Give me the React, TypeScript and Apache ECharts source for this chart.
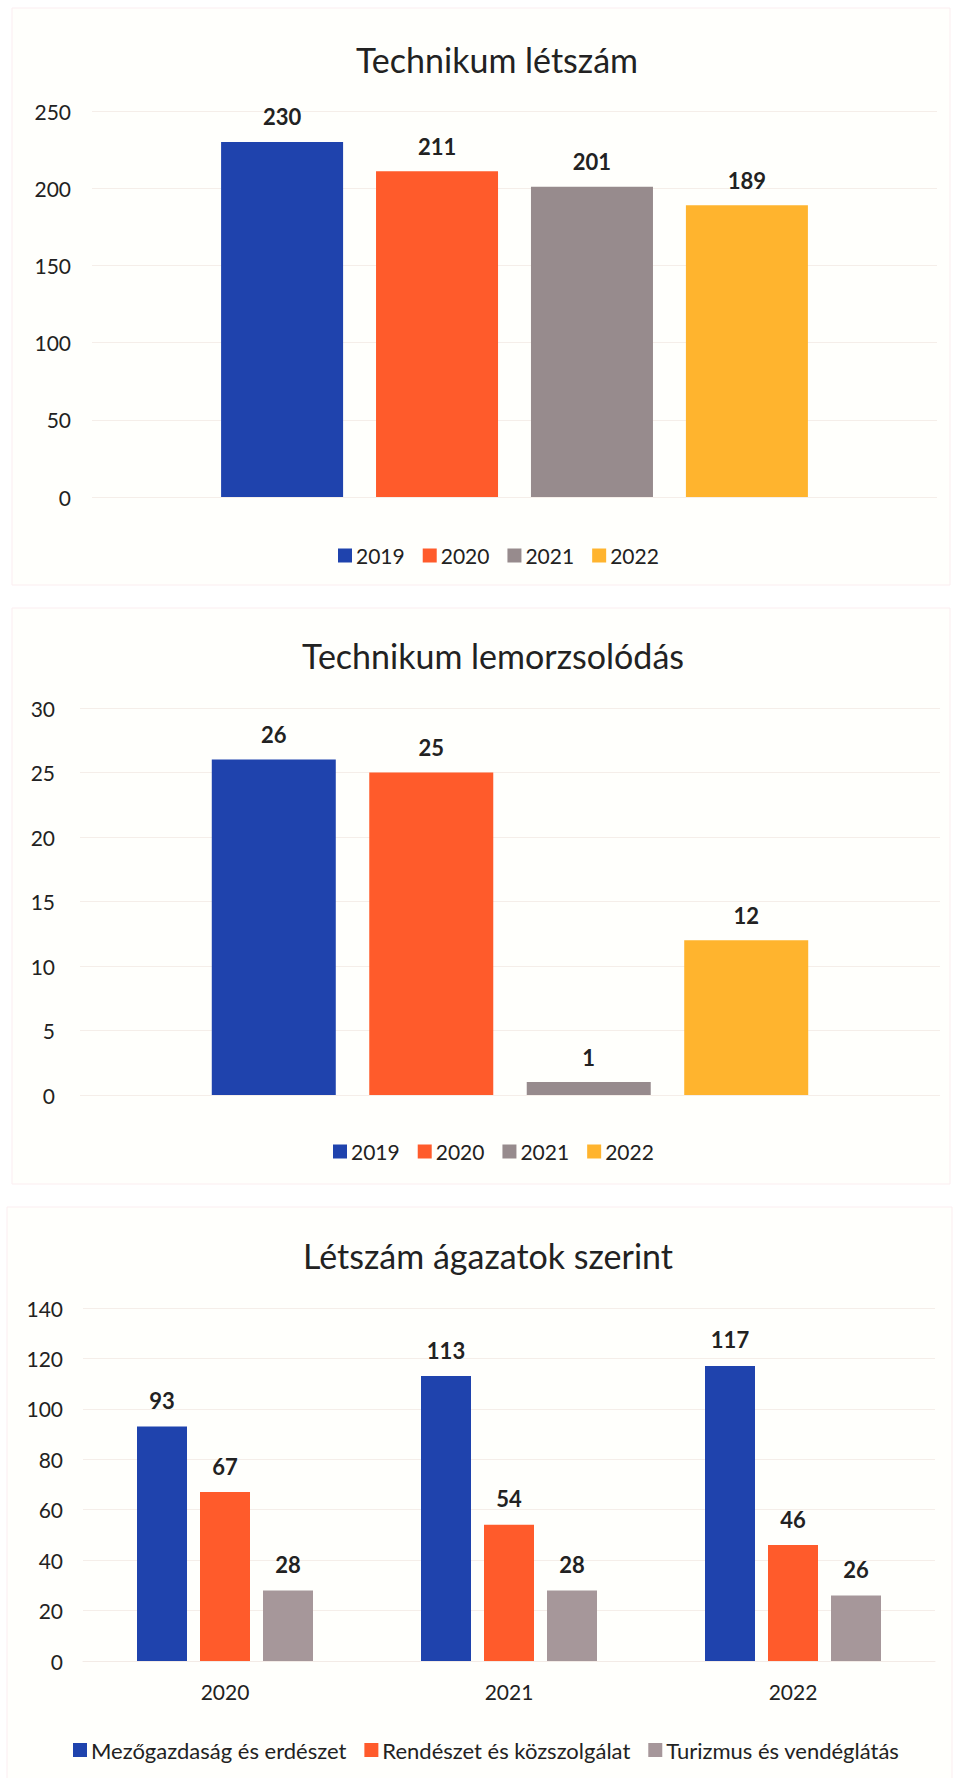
import React, { useEffect, useRef } from "react";
import * as echarts from "echarts";

const years = ["2019", "2020", "2021", "2022"];
const letszam = [230, 211, 201, 189];
const lemorzsolodas = [26, 25, 1, 12];
const yAxis1Max = 250;
const yAxis2Max = 30;
const yAxis3Max = 140;

const sectorYears = ["2020", "2021", "2022"];
const sectorNames = [
  "Mezőgazdaság és erdészet",
  "Rendészet és közszolgálat",
  "Turizmus és vendéglátás",
];
const mezogazdasag = [93, 113, 117];
const rendeszet = [67, 54, 46];
const turizmus = [28, 28, 26];
const sectorValues = [mezogazdasag, rendeszet, turizmus];

const titles = ["Technikum létszám", "Technikum lemorzsolódás", "Létszám ágazatok szerint"];

const yearColors = ["#1f43ad", "#ff5b2b", "#978b8d", "#ffb42e"];
const sectorColors = ["#1f43ad", "#ff5b2b", "#a6979a"];

const FONT = "Lato, 'Noto Sans', sans-serif";
const TXT = "#222222";

export default function App() {
  const ref = useRef<HTMLDivElement>(null);

  useEffect(() => {
    document.body.style.margin = "0";
    if (!ref.current) return;
    const chart = echarts.init(ref.current, undefined, { renderer: "svg" });

    const labelStyle = (distance: number) => ({
      show: true,
      position: "top",
      distance,
      color: TXT,
      fontFamily: FONT,
      fontSize: 22,
      fontWeight: "bold",
    });

    const axisLabel = (margin: number) => ({
      color: TXT,
      fontFamily: FONT,
      fontSize: 21,
      margin,
    });

    const splitLine = { show: true, lineStyle: { color: "#f5eee9", width: 1 } };

    const series: any[] = [];
    years.forEach((y, i) => {
      series.push({
        type: "bar",
        name: y,
        xAxisIndex: 0,
        yAxisIndex: 0,
        data: [letszam[i]],
        barWidth: 122,
        barGap: "27%",
        itemStyle: { color: yearColors[i] },
        label: labelStyle(14),
      });
    });
    years.forEach((y, i) => {
      series.push({
        type: "bar",
        name: y,
        xAxisIndex: 1,
        yAxisIndex: 1,
        data: [lemorzsolodas[i]],
        barWidth: 124,
        barGap: "27%",
        itemStyle: { color: yearColors[i] },
        label: labelStyle(14),
      });
    });
    sectorNames.forEach((n, i) => {
      series.push({
        type: "bar",
        name: n,
        xAxisIndex: 2,
        yAxisIndex: 2,
        data: sectorValues[i],
        barWidth: 50,
        barGap: "26%",
        itemStyle: { color: sectorColors[i] },
        label: labelStyle(15),
      });
    });

    const legendBase = (fontSize: number) => ({
      itemWidth: 14,
      itemHeight: 14,
      itemGap: 18,
      icon: "rect",
      textStyle: { color: TXT, fontFamily: FONT, fontSize, padding: [0, 0, 0, -1] },
      selectedMode: false,
    });

    const panel = (x: number, y: number, w: number, h: number) => ({
      type: "rect",
      silent: true,
      z: -10,
      shape: { x, y, width: w, height: h },
      style: { fill: "#fffffc", stroke: "#fbedf0", lineWidth: 1 },
    });

    const titleText = (text: string, x: number, y: number) => ({
      type: "text",
      x,
      y,
      silent: true,
      style: {
        text,
        fill: TXT,
        font: `34px ${FONT}`,
        textAlign: "center",
        textVerticalAlign: "middle",
      },
    });

    const hiddenCat = (gridIndex: number) => ({
      type: "category",
      gridIndex,
      data: ["Technikum"],
      axisLine: { show: false },
      axisTick: { show: false },
      axisLabel: { show: false },
    });

    chart.setOption({
      animation: false,
      backgroundColor: "#ffffff",
      textStyle: { fontFamily: FONT },
      graphic: [
        panel(12, 8, 938, 577),
        panel(12, 608, 938, 576),
        panel(7, 1207, 945, 575),
        titleText(titles[0], 497, 59),
        titleText(titles[1], 493, 655),
        titleText(titles[2], 488, 1255),
      ],
      grid: [
        { left: 92, top: 111, width: 845, height: 386 },
        { left: 80, top: 708, width: 860, height: 387 },
        { left: 83, top: 1308, width: 852, height: 353 },
      ],
      xAxis: [
        hiddenCat(0),
        hiddenCat(1),
        {
          type: "category",
          gridIndex: 2,
          data: sectorYears,
          axisLine: { show: true, lineStyle: { color: "#f3ebe6" } },
          axisTick: { show: false },
          axisLabel: axisLabel(20),
        },
      ],
      yAxis: [
        {
          type: "value",
          gridIndex: 0,
          min: 0,
          max: yAxis1Max,
          interval: 50,
          axisLine: { show: false },
          axisTick: { show: false },
          axisLabel: axisLabel(21),
          splitLine,
        },
        {
          type: "value",
          gridIndex: 1,
          min: 0,
          max: yAxis2Max,
          interval: 5,
          axisLine: { show: false },
          axisTick: { show: false },
          axisLabel: axisLabel(25),
          splitLine,
        },
        {
          type: "value",
          gridIndex: 2,
          min: 0,
          max: yAxis3Max,
          interval: 20,
          axisLine: { show: false },
          axisTick: { show: false },
          axisLabel: axisLabel(20),
          splitLine,
        },
      ],
      legend: [
        { ...legendBase(21), data: years, left: 333, top: 540 },
        { ...legendBase(21), data: years, left: 328, top: 1136 },
        { ...legendBase(22), data: sectorNames, left: 68, top: 1734 },
      ],
      series,
    });

    return () => {
      chart.dispose();
    };
  }, []);

  return <div ref={ref} style={{ width: 961, height: 1778 }} />;
}
